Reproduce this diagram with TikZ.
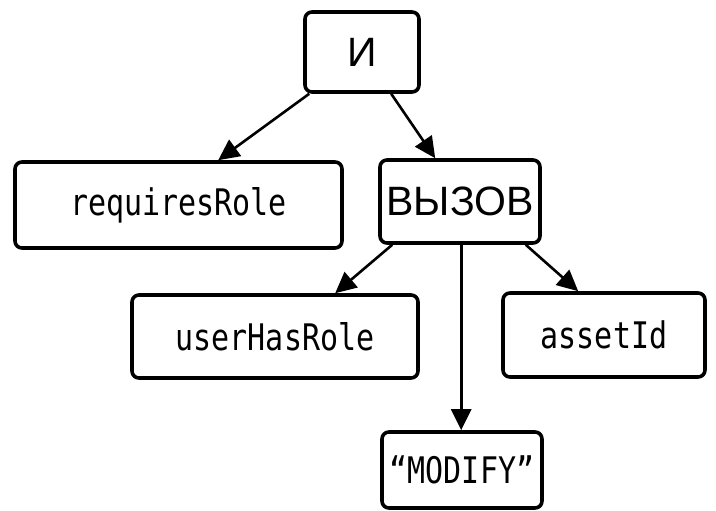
\documentclass[tikz,border=0pt]{standalone}
\usepackage{fontspec}
\usepackage{graphicx}
\setmainfont{Liberation Sans}
\newfontfamily\monof{DejaVu Sans Mono}
\newcommand{\tallmono}[1]{\scalebox{1}[1.22]{#1}}
\usetikzlibrary{arrows.meta,calc}
\begin{document}
\begin{tikzpicture}[x=1pt,y=-1pt,
  box/.style={draw,line width=3.6pt,rounded corners=7pt,inner sep=0pt,anchor=center},
  mono/.style={box,font=\monof\fontsize{30}{33}\selectfont},
  cyr/.style={box,font=\fontsize{41}{45}\selectfont},
  arr/.style={line width=2.6pt,-{Triangle[length=21pt,width=20pt]}}]
\useasboundingbox (0,0) rectangle (716,511);
\node[cyr,minimum width=114pt,minimum height=80pt] (and) at (362,52) {И};
\node[mono,minimum width=327pt,minimum height=86pt] (req) at (178.5,205) {\tallmono{requiresRole}};
\node[cyr,minimum width=160pt,minimum height=83pt] (call) at (460,201.5) {ВЫЗОВ};
\node[mono,minimum width=286pt,minimum height=83pt] (user) at (275,336.5) {\tallmono{userHasRole}};
\node[mono,minimum width=202pt,minimum height=84pt] (asset) at (604,335) {\tallmono{assetId}};
\node[mono,minimum width=160pt,minimum height=76pt] (mod) at (462,470) {\tallmono{“MODIFY”}};
\draw[arr] ([xshift=6pt]and.south west) -- ([xshift=205pt]req.north west);
\draw[arr] ([xshift=88pt]and.south west) -- ([xshift=57pt]call.north west);
\draw[arr] ([xshift=14pt]call.south west) -- ([xshift=205pt]user.north west);
\draw[arr] ([xshift=83pt]call.south west) -- ([xshift=81pt]mod.north west);
\draw[arr] ([xshift=-16pt]call.south east) -- ([xshift=77pt]asset.north west);
\end{tikzpicture}
\end{document}
